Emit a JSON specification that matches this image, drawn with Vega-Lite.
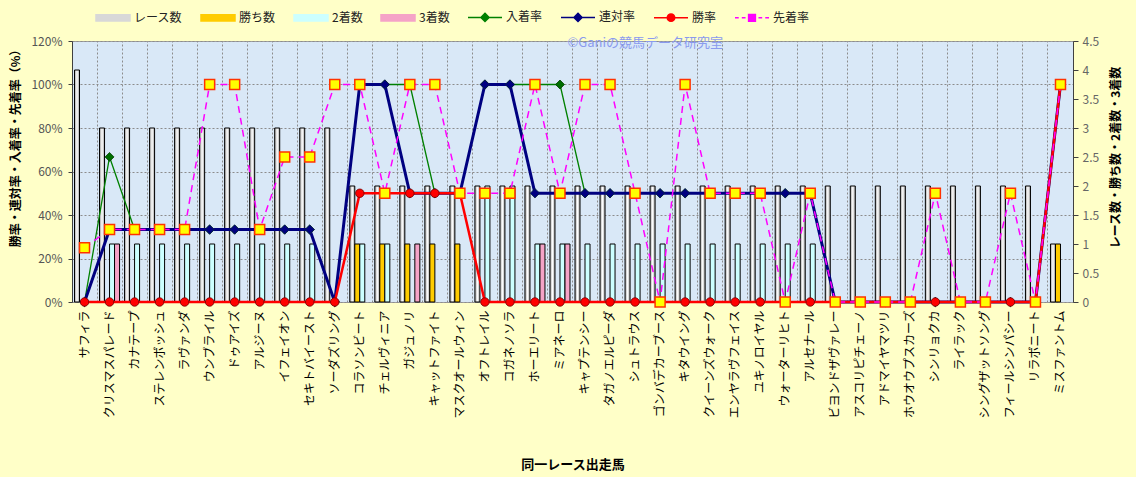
{
  "$schema": "https://vega.github.io/schema/vega-lite/v6.json",
  "width": 1001,
  "height": 261,
  "autosize": "none",
  "padding": {"left": 72, "top": 41, "right": 63, "bottom": 175},
  "background": "#FFFFC8",
  "config": {
    "font": "Noto Sans CJK JP",
    "view": {"fill": "#D9E8F7", "stroke": "#A0A0A0", "strokeWidth": 1},
    "axis": {"labelFont": "Noto Sans CJK JP", "titleFont": "Noto Sans CJK JP"},
    "legend": {"labelFont": "Noto Sans CJK JP"}
  },
  "data": {
    "values": [
      {"idx": 1, "horse": "サフィラ", "レース数": 4, "勝ち数": 0, "2着数": 0, "3着数": 0, "入着率": 0, "連対率": 0, "勝率": 0, "先着率": 25},
      {"idx": 2, "horse": "クリスマスパレード", "レース数": 3, "勝ち数": 0, "2着数": 1, "3着数": 1, "入着率": 66.7, "連対率": 33.3, "勝率": 0, "先着率": 33.3},
      {"idx": 3, "horse": "カナテープ", "レース数": 3, "勝ち数": 0, "2着数": 1, "3着数": 0, "入着率": 33.3, "連対率": 33.3, "勝率": 0, "先着率": 33.3},
      {"idx": 4, "horse": "ステレンボッシュ", "レース数": 3, "勝ち数": 0, "2着数": 1, "3着数": 0, "入着率": 33.3, "連対率": 33.3, "勝率": 0, "先着率": 33.3},
      {"idx": 5, "horse": "ラヴァンダ", "レース数": 3, "勝ち数": 0, "2着数": 1, "3着数": 0, "入着率": 33.3, "連対率": 33.3, "勝率": 0, "先着率": 33.3},
      {"idx": 6, "horse": "ウンブライル", "レース数": 3, "勝ち数": 0, "2着数": 1, "3着数": 0, "入着率": 33.3, "連対率": 33.3, "勝率": 0, "先着率": 100},
      {"idx": 7, "horse": "ドゥアイズ", "レース数": 3, "勝ち数": 0, "2着数": 1, "3着数": 0, "入着率": 33.3, "連対率": 33.3, "勝率": 0, "先着率": 100},
      {"idx": 8, "horse": "アルジーヌ", "レース数": 3, "勝ち数": 0, "2着数": 1, "3着数": 0, "入着率": 33.3, "連対率": 33.3, "勝率": 0, "先着率": 33.3},
      {"idx": 9, "horse": "イフェイオン", "レース数": 3, "勝ち数": 0, "2着数": 1, "3着数": 0, "入着率": 33.3, "連対率": 33.3, "勝率": 0, "先着率": 66.7},
      {"idx": 10, "horse": "セキトバイースト", "レース数": 3, "勝ち数": 0, "2着数": 1, "3着数": 0, "入着率": 33.3, "連対率": 33.3, "勝率": 0, "先着率": 66.7},
      {"idx": 11, "horse": "ソーダズリング", "レース数": 3, "勝ち数": 0, "2着数": 0, "3着数": 0, "入着率": 0, "連対率": 0, "勝率": 0, "先着率": 100},
      {"idx": 12, "horse": "コラソンビート", "レース数": 2, "勝ち数": 1, "2着数": 1, "3着数": 0, "入着率": 100, "連対率": 100, "勝率": 50, "先着率": 100},
      {"idx": 13, "horse": "チェルヴィニア", "レース数": 2, "勝ち数": 1, "2着数": 1, "3着数": 0, "入着率": 100, "連対率": 100, "勝率": 50, "先着率": 50},
      {"idx": 14, "horse": "ガジュノリ", "レース数": 2, "勝ち数": 1, "2着数": 0, "3着数": 1, "入着率": 100, "連対率": 50, "勝率": 50, "先着率": 100},
      {"idx": 15, "horse": "キャットファイト", "レース数": 2, "勝ち数": 1, "2着数": 0, "3着数": 0, "入着率": 50, "連対率": 50, "勝率": 50, "先着率": 100},
      {"idx": 16, "horse": "マスクオールウィン", "レース数": 2, "勝ち数": 1, "2着数": 0, "3着数": 0, "入着率": 50, "連対率": 50, "勝率": 50, "先着率": 50},
      {"idx": 17, "horse": "オフトレイル", "レース数": 2, "勝ち数": 0, "2着数": 2, "3着数": 0, "入着率": 100, "連対率": 100, "勝率": 0, "先着率": 50},
      {"idx": 18, "horse": "コガネノソラ", "レース数": 2, "勝ち数": 0, "2着数": 2, "3着数": 0, "入着率": 100, "連対率": 100, "勝率": 0, "先着率": 50},
      {"idx": 19, "horse": "ホーエリート", "レース数": 2, "勝ち数": 0, "2着数": 1, "3着数": 1, "入着率": 100, "連対率": 50, "勝率": 0, "先着率": 100},
      {"idx": 20, "horse": "ミアネーロ", "レース数": 2, "勝ち数": 0, "2着数": 1, "3着数": 1, "入着率": 100, "連対率": 50, "勝率": 0, "先着率": 50},
      {"idx": 21, "horse": "キャプテンシー", "レース数": 2, "勝ち数": 0, "2着数": 1, "3着数": 0, "入着率": 50, "連対率": 50, "勝率": 0, "先着率": 100},
      {"idx": 22, "horse": "タガノエルピーダ", "レース数": 2, "勝ち数": 0, "2着数": 1, "3着数": 0, "入着率": 50, "連対率": 50, "勝率": 0, "先着率": 100},
      {"idx": 23, "horse": "シュトラウス", "レース数": 2, "勝ち数": 0, "2着数": 1, "3着数": 0, "入着率": 50, "連対率": 50, "勝率": 0, "先着率": 50},
      {"idx": 24, "horse": "ゴンバデカーブース", "レース数": 2, "勝ち数": 0, "2着数": 1, "3着数": 0, "入着率": 50, "連対率": 50, "勝率": 0, "先着率": 0},
      {"idx": 25, "horse": "キタウイング", "レース数": 2, "勝ち数": 0, "2着数": 1, "3着数": 0, "入着率": 50, "連対率": 50, "勝率": 0, "先着率": 100},
      {"idx": 26, "horse": "クイーンズウォーク", "レース数": 2, "勝ち数": 0, "2着数": 1, "3着数": 0, "入着率": 50, "連対率": 50, "勝率": 0, "先着率": 50},
      {"idx": 27, "horse": "エンヤラヴフェイス", "レース数": 2, "勝ち数": 0, "2着数": 1, "3着数": 0, "入着率": 50, "連対率": 50, "勝率": 0, "先着率": 50},
      {"idx": 28, "horse": "ユキノロイヤル", "レース数": 2, "勝ち数": 0, "2着数": 1, "3着数": 0, "入着率": 50, "連対率": 50, "勝率": 0, "先着率": 50},
      {"idx": 29, "horse": "ウォーターリヒト", "レース数": 2, "勝ち数": 0, "2着数": 1, "3着数": 0, "入着率": 50, "連対率": 50, "勝率": 0, "先着率": 0},
      {"idx": 30, "horse": "アルセナール", "レース数": 2, "勝ち数": 0, "2着数": 1, "3着数": 0, "入着率": 50, "連対率": 50, "勝率": 0, "先着率": 50},
      {"idx": 31, "horse": "ビヨンドザヴァレー", "レース数": 2, "勝ち数": 0, "2着数": 0, "3着数": 0, "入着率": 0, "連対率": 0, "勝率": 0, "先着率": 0},
      {"idx": 32, "horse": "アスコリピチェーノ", "レース数": 2, "勝ち数": 0, "2着数": 0, "3着数": 0, "入着率": 0, "連対率": 0, "勝率": 0, "先着率": 0},
      {"idx": 33, "horse": "アドマイヤマツリ", "レース数": 2, "勝ち数": 0, "2着数": 0, "3着数": 0, "入着率": 0, "連対率": 0, "勝率": 0, "先着率": 0},
      {"idx": 34, "horse": "ホウオウプスカーズ", "レース数": 2, "勝ち数": 0, "2着数": 0, "3着数": 0, "入着率": 0, "連対率": 0, "勝率": 0, "先着率": 0},
      {"idx": 35, "horse": "シンリョクカ", "レース数": 2, "勝ち数": 0, "2着数": 0, "3着数": 0, "入着率": 0, "連対率": 0, "勝率": 0, "先着率": 50},
      {"idx": 36, "horse": "ライラック", "レース数": 2, "勝ち数": 0, "2着数": 0, "3着数": 0, "入着率": 0, "連対率": 0, "勝率": 0, "先着率": 0},
      {"idx": 37, "horse": "シングザットソング", "レース数": 2, "勝ち数": 0, "2着数": 0, "3着数": 0, "入着率": 0, "連対率": 0, "勝率": 0, "先着率": 0},
      {"idx": 38, "horse": "フィールシンパシー", "レース数": 2, "勝ち数": 0, "2着数": 0, "3着数": 0, "入着率": 0, "連対率": 0, "勝率": 0, "先着率": 50},
      {"idx": 39, "horse": "リラボニート", "レース数": 2, "勝ち数": 0, "2着数": 0, "3着数": 0, "入着率": 0, "連対率": 0, "勝率": 0, "先着率": 0},
      {"idx": 40, "horse": "ミスファントム", "レース数": 1, "勝ち数": 1, "2着数": 0, "3着数": 0, "入着率": 100, "連対率": 100, "勝率": 100, "先着率": 100}
    ]
  },
  "transform": [
    {"fold": ["レース数", "勝ち数", "2着数", "3着数", "入着率", "連対率", "勝率", "先着率"], "as": ["key", "value"]}
  ],
  "layer": [
    {
      "transform": [
        {"filter": {"field": "key", "oneOf": ["レース数", "勝ち数", "2着数", "3着数"]}},
        {"filter": "datum.value > 0"}
      ],
      "mark": {"type": "bar", "stroke": "#000000", "strokeWidth": 1},
      "encoding": {
        "x": {
          "field": "horse", "type": "nominal", "sort": null,
          "scale": {"paddingInner": 0, "paddingOuter": 0},
          "axis": {"orient": "top", "bandPosition": 0, "grid": true, "gridColor": "#8C8C8C", "gridDash": [2, 2], "labels": false, "ticks": false, "domain": false,
            "title": "©Ganiの競馬データ研究室", "titleX": 495, "titleY": 1, "titleAlign": "left", "titleBaseline": "middle", "titleFontSize": 13, "titleFontWeight": "normal", "titleColor": "#8A9AEE"}
        },
        "xOffset": {"field": "key", "type": "nominal", "scale": {"domain": ["レース数", "勝ち数", "2着数", "3着数"], "paddingInner": 0, "paddingOuter": 0.5}},
        "y": {
          "field": "value", "type": "quantitative",
          "scale": {"domain": [0, 4.5], "nice": false},
          "axis": {"orient": "right", "values": [0, 0.5, 1, 1.5, 2, 2.5, 3, 3.5, 4, 4.5], "format": "~g", "grid": false,
            "tickSize": 5, "tickColor": "#404040", "domainColor": "#404040", "labelPadding": 4, "labelFontSize": 12, "labelColor": "#666666",
            "title": "レース数・勝ち数・2着数・3着数", "titleAngle": -90, "titleBaseline": "top", "titleY": 116, "titlePadding": 12, "titleFontSize": 12, "titleFontWeight": "bold", "titleColor": "#000000"}
        },
        "color": {
          "condition": {"test": "datum.key === 'レース数'", "value": {"gradient": "linear", "x1": 0, "x2": 1, "y1": 0, "y2": 0, "stops": [{"offset": 0, "color": "#A0A0A0"}, {"offset": 0.5, "color": "#FFFFFF"}, {"offset": 1, "color": "#A0A0A0"}]}},
          "field": "key", "type": "nominal",
          "scale": {"domain": ["レース数", "勝ち数", "2着数", "3着数", "入着率", "連対率", "勝率", "先着率"], "range": ["#D8D8D8", "#FFCC00", "#CCFFFF", "#F5A3C7", "#008000", "#000080", "#FF0000", "#FF00FF"]},
          "legend": {
            "title": null, "orient": "none", "legendX": 23, "legendY": -42, "direction": "horizontal", "columns": 8, "columnPadding": 15,
            "symbolSize": 1156, "symbolStrokeWidth": 1.5, "labelFontSize": 12, "labelColor": "#222222", "labelOffset": 3, "padding": 0,
            "symbolType": {"expr": "['M-1,-0.19H1V0.19H-1Z','M-1,-0.19H1V0.19H-1Z','M-1,-0.19H1V0.19H-1Z','M-1,-0.19H1V0.19H-1Z','M-1,0H1M0,-0.24L0.24,0L0,0.24L-0.24,0Z','M-1,0H1M0,-0.24L0.24,0L0,0.24L-0.24,0Z','M-1,0H1M0.22,0A0.22,0.22,0,1,1,-0.22,0A0.22,0.22,0,1,1,0.22,0Z','M-1,0H-0.78M-0.6,0H-0.38M0.38,0H0.6M0.78,0H1M-0.2,-0.2H0.2V0.2H-0.2Z'][indexof(['レース数','勝ち数','2着数','3着数','入着率','連対率','勝率','先着率'], datum.value)]"}
          }
        }
      }
    },
    {
      "encoding": {
        "x": {
          "field": "horse", "type": "nominal", "sort": null,
          "scale": {"paddingInner": 0, "paddingOuter": 0},
          "axis": {"orient": "bottom", "grid": false, "ticks": false, "domain": false, "labelAngle": -90, "labelAlign": "right", "labelBaseline": "middle", "labelFontSize": 12, "labelColor": "#000000", "labelPadding": 8,
            "title": "同一レース出走馬", "titleY": 162, "titleBaseline": "middle", "titleFontSize": 13, "titleFontWeight": "bold", "titleColor": "#000000"}
        },
        "y": {
          "field": "value", "type": "quantitative",
          "scale": {"domain": [0, 120], "nice": false},
          "axis": {"orient": "left", "values": [0, 20, 40, 60, 80, 100, 120], "labelExpr": "datum.value + '%'", "grid": true, "gridColor": "#8C8C8C", "gridDash": [2, 2],
            "tickSize": 4, "tickColor": "#404040", "domainColor": "#404040", "labelPadding": 6, "labelFontSize": 12, "labelColor": "#555555",
            "title": "勝率・連対率・入着率・先着率（%）", "titleY": 104, "titlePadding": 8, "titleFontSize": 12, "titleFontWeight": "bold", "titleColor": "#000000"}
        },
        "order": {"field": "idx", "type": "quantitative"}
      },
      "layer": [
        {
          "transform": [{"filter": "datum.key === '入着率'"}],
          "layer": [
            {"mark": {"type": "line", "strokeWidth": 1.3}, "encoding": {"color": {"field": "key", "type": "nominal"}}},
            {"mark": {"type": "point", "shape": "diamond", "filled": true, "size": 80, "fill": "#006E00", "stroke": "#004000", "strokeWidth": 0.8, "opacity": 1}}
          ]
        },
        {
          "transform": [{"filter": "datum.key === '連対率'"}],
          "layer": [
            {"mark": {"type": "line", "strokeWidth": 3}, "encoding": {"color": {"field": "key", "type": "nominal"}}},
            {"mark": {"type": "point", "shape": "diamond", "filled": true, "size": 90, "fill": "#000080", "stroke": "#0A2A3A", "strokeWidth": 0.8, "opacity": 1}}
          ]
        },
        {
          "transform": [{"filter": "datum.key === '勝率'"}],
          "layer": [
            {"mark": {"type": "line", "strokeWidth": 2.5}, "encoding": {"color": {"field": "key", "type": "nominal"}}},
            {"mark": {"type": "point", "shape": "circle", "filled": true, "size": 72, "fill": "#FF0000", "stroke": "#700000", "strokeWidth": 0.8, "opacity": 1}}
          ]
        },
        {
          "transform": [{"filter": "datum.key === '先着率'"}],
          "layer": [
            {"mark": {"type": "line", "strokeWidth": 1.5, "strokeDash": [7, 5]}, "encoding": {"color": {"field": "key", "type": "nominal"}}},
            {"mark": {"type": "point", "shape": "square", "filled": true, "size": 100, "fill": "#FFFF00", "stroke": "#FF3300", "strokeWidth": 1.5, "opacity": 1}}
          ]
        }
      ]
    }
  ],
  "resolve": {"scale": {"y": "independent"}, "axis": {"x": "independent"}}
}
